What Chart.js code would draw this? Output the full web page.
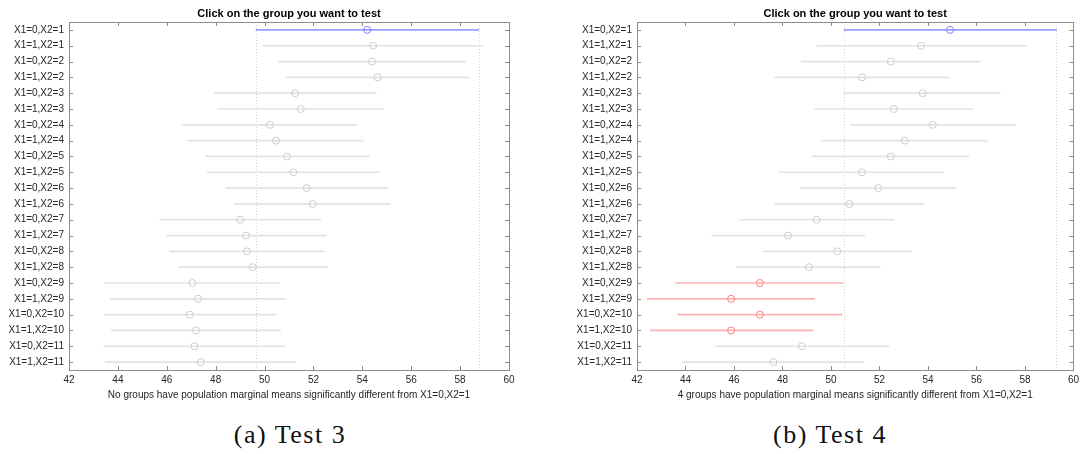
<!DOCTYPE html>
<html>
<head>
<meta charset="utf-8">
<script src="https://cdn.jsdelivr.net/npm/chart.js@4.4.1/dist/chart.umd.min.js"></script>
<style>
  body { margin: 0; background: #fff; }
  #page { position: relative; width: 1083px; height: 454px; overflow: hidden; }
  .panel { position: absolute; top: 0; height: 405px; }
  .caption { position: absolute; top: 420px; width: 300px; text-align: center; letter-spacing: 1.5px;
             font-family: "Liberation Serif", "DejaVu Serif", serif; font-size: 26px; color: #111; }
</style>
</head>
<body>
<div id="page">
  <div class="panel" style="left:0; width:530px;"><canvas id="test3"></canvas></div>
  <div class="panel" style="left:540px; width:543px;"><canvas id="test4"></canvas></div>
  <div class="caption" style="left:140px;">(a) Test 3</div>
  <div class="caption" style="left:680px;">(b) Test 4</div>
</div>
<script>
const groups = [
  'X1=0,X2=1', 'X1=1,X2=1', 'X1=0,X2=2', 'X1=1,X2=2', 'X1=0,X2=3', 'X1=1,X2=3',
  'X1=0,X2=4', 'X1=1,X2=4', 'X1=0,X2=5', 'X1=1,X2=5', 'X1=0,X2=6', 'X1=1,X2=6',
  'X1=0,X2=7', 'X1=1,X2=7', 'X1=0,X2=8', 'X1=1,X2=8', 'X1=0,X2=9', 'X1=1,X2=9',
  'X1=0,X2=10', 'X1=1,X2=10', 'X1=0,X2=11', 'X1=1,X2=11'
];

// Test 3: marginal means and interval ends
const test3Mean = [54.2, 54.44, 54.4, 54.62, 51.25, 51.48, 50.22, 50.47, 50.92, 51.18, 51.72, 51.97,
                   49.0, 49.24, 49.28, 49.52, 47.05, 47.28, 46.94, 47.2, 47.13, 47.39];
const test3Low  = [49.65, 49.92, 50.57, 50.88, 47.95, 48.08, 46.66, 46.87, 47.58, 47.66, 48.4, 48.76,
                   45.71, 45.98, 46.12, 46.47, 43.44, 43.69, 43.44, 43.72, 43.42, 43.49];
const test3High = [58.76, 58.95, 58.23, 58.39, 54.57, 54.88, 53.76, 54.03, 54.27, 54.7, 55.04, 55.16,
                   52.3, 52.52, 52.43, 52.58, 50.62, 50.87, 50.47, 50.66, 50.85, 51.28];
const test3Significant = [];

// Test 4
const test4Mean = [54.91, 53.72, 52.47, 51.28, 53.78, 52.59, 54.2, 53.04, 52.47, 51.28, 51.95, 50.76,
                   49.41, 48.23, 50.26, 49.09, 47.07, 45.88, 47.07, 45.88, 48.8, 47.63];
const test4Low  = [50.54, 49.4, 48.77, 47.68, 50.54, 49.33, 50.81, 49.59, 49.23, 47.87, 48.73, 47.68,
                   46.23, 45.09, 47.22, 46.12, 43.6, 42.43, 43.69, 42.55, 45.24, 43.89];
const test4High = [59.3, 58.05, 56.16, 54.87, 56.97, 55.85, 57.62, 56.45, 55.67, 54.65, 55.14, 53.85,
                   52.6, 51.38, 53.3, 52.03, 50.5, 49.33, 50.46, 49.25, 52.4, 51.35];
const test4Significant = ['X1=0,X2=9', 'X1=1,X2=9', 'X1=0,X2=10', 'X1=1,X2=10'];

const selectedGroup = 'X1=0,X2=1';
const xRange = [42, 60];

const FONT = '"Liberation Sans", Arial, sans-serif';
const TEXT = '#262626';
const AXIS = '#8c8c8c';

function rowColors(significant) {
  return groups.map(g => {
    if (g === selectedGroup) return { line: '#9d9dff', mark: '#7b7bff' };
    if (significant.includes(g)) return { line: '#ffb0b0', mark: '#ff8080' };
    return { line: '#e3e3e3', mark: '#cdcdcd' };
  });
}

// box, inward ticks, dotted limits of the selected group, title
const framePlugin = {
  id: 'frame',
  beforeDatasetsDraw(chart) {
    const { ctx, chartArea: a, scales: { x } } = chart;
    const sel = chart.data.datasets[0].data[groups.indexOf(selectedGroup)];
    ctx.save();
    ctx.strokeStyle = '#d4d4d4';
    ctx.lineWidth = 1;
    ctx.setLineDash([1, 2]);
    sel.forEach(v => {
      const px = Math.round(x.getPixelForValue(v)) + 0.5;
      ctx.beginPath();
      ctx.moveTo(px, a.top);
      ctx.lineTo(px, a.bottom);
      ctx.stroke();
    });
    ctx.restore();
  },
  afterDraw(chart) {
    const { ctx, chartArea: a, scales: { x, y } } = chart;
    ctx.save();
    ctx.strokeStyle = AXIS;
    ctx.lineWidth = 1;
    ctx.strokeRect(Math.round(a.left) + 0.5, Math.round(a.top) + 0.5,
                   Math.round(a.right - a.left), Math.round(a.bottom - a.top));
    ctx.beginPath();
    x.ticks.forEach(t => {
      const px = Math.round(x.getPixelForValue(t.value)) + 0.5;
      ctx.moveTo(px, a.top); ctx.lineTo(px, a.top + 4);
      ctx.moveTo(px, a.bottom); ctx.lineTo(px, a.bottom - 4);
    });
    groups.forEach((g, i) => {
      const py = Math.round(y.getPixelForValue(i)) + 0.5;
      ctx.moveTo(a.left, py); ctx.lineTo(a.left + 4, py);
      ctx.moveTo(a.right, py); ctx.lineTo(a.right - 4, py);
    });
    ctx.stroke();
    ctx.fillStyle = '#000';
    ctx.font = 'bold 11px ' + FONT;
    ctx.textAlign = 'center';
    ctx.textBaseline = 'bottom';
    ctx.fillText('Click on the group you want to test', (a.left + a.right) / 2, a.top - 3);
    ctx.restore();
  }
};

function makeChart(id, mean, low, high, significant, xlabel, yWidth, padRight) {
  const colors = rowColors(significant);
  new Chart(document.getElementById(id), {
    type: 'bar',
    data: {
      labels: groups,
      datasets: [
        {
          type: 'bar',
          data: low.map((l, i) => [l, high[i]]),
          backgroundColor: colors.map(c => c.line),
          barThickness: 1,
          borderWidth: 0,
          order: 2
        },
        {
          type: 'line',
          data: mean,
          showLine: false,
          pointStyle: 'circle',
          pointRadius: 3.5,
          pointHoverRadius: 3.5,
          pointBorderWidth: 1,
          pointBackgroundColor: 'rgba(255,255,255,0)',
          pointBorderColor: colors.map(c => c.mark),
          order: 1
        }
      ]
    },
    options: {
      indexAxis: 'y',
      responsive: true,
      maintainAspectRatio: false,
      animation: false,
      layout: { padding: { top: 22, right: padRight, left: 0, bottom: 0 } },
      plugins: { legend: { display: false }, tooltip: { enabled: false }, title: { display: false } },
      scales: {
        x: {
          type: 'linear',
          min: xRange[0],
          max: xRange[1],
          grid: { display: false, drawTicks: false },
          border: { display: false },
          ticks: { stepSize: 2, padding: 4, color: TEXT, font: { family: FONT, size: 10 } },
          title: { display: true, text: xlabel, color: TEXT, font: { family: FONT, size: 10 }, padding: { top: 0, bottom: 4 } },
          afterFit: s => { s.height = 35; }
        },
        y: {
          type: 'category',
          offset: true,
          grid: { display: false, drawTicks: false },
          border: { display: false },
          ticks: { padding: 5, color: TEXT, font: { family: FONT, size: 10 } },
          afterFit: s => { s.width = yWidth; }
        }
      }
    },
    plugins: [framePlugin]
  });
}

makeChart('test3', test3Mean, test3Low, test3High, test3Significant,
  'No groups have population marginal means significantly different from X1=0,X2=1', 69, 21);
makeChart('test4', test4Mean, test4Low, test4High, test4Significant,
  '4 groups have population marginal means significantly different from X1=0,X2=1', 97, 7);
</script>
</body>
</html>
